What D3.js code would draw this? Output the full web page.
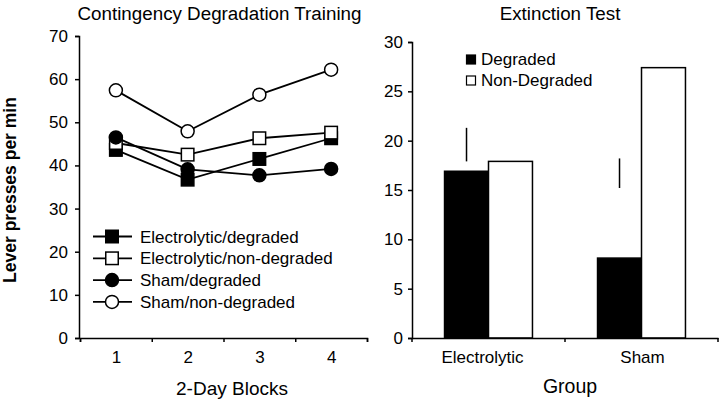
<!DOCTYPE html>
<html><head><meta charset="utf-8">
<script src="https://cdn.jsdelivr.net/npm/d3@7"></script>
<style>
body{margin:0;background:#fff;}
text{font-family:"Liberation Sans",Arial,Helvetica,sans-serif;fill:#000;}
</style></head>
<body><svg id="c" width="720" height="404"></svg>
<script>
// ---- data ----
const blocks = [1, 2, 3, 4];
const lineSeries = ["Electrolytic/degraded", "Electrolytic/non-degraded", "Sham/degraded", "Sham/non-degraded"];
const electrolyticDegraded = [43.6, 36.7, 41.5, 46.3];
const electrolyticNonDegraded = [45.2, 42.5, 46.3, 47.6];
const shamDegraded = [46.5, 39.1, 37.7, 39.2];
const shamNonDegraded = [57.4, 47.9, 56.4, 62.2];
const leftYTicks = [0, 10, 20, 30, 40, 50, 60, 70];

const groups = ["Electrolytic", "Sham"];
const conditions = ["Degraded", "Non-Degraded"];
const degradedValues = [16.9, 8.1];
const nonDegradedValues = [17.9, 27.4];
const errLow = [17.9, 15.2];
const errHigh = [21.3, 18.2];
const rightYTicks = [0, 5, 10, 15, 20, 25, 30];

const svg = d3.select("#c");
const FS = 17;

// ---- left panel ----
const yL = d3.scaleLinear().domain([0, 70]).range([338, 36]);
const xL = d3.scaleLinear().domain([0.5, 4.5]).range([80, 367]);

const gyL = svg.append("g").attr("transform", "translate(79,0)")
  .call(d3.axisLeft(yL).tickValues(leftYTicks).tickSize(4).tickPadding(7).tickFormat(d3.format("d")));
const gxL = svg.append("g").attr("transform", "translate(0,338)")
  .call(d3.axisBottom(xL).tickValues([0.5, 1.5, 2.5, 3.5, 4.5]).tickSize(4).tickFormat(""));
const gxL2 = svg.append("g").attr("transform", "translate(0,338)")
  .call(d3.axisBottom(xL).tickValues(blocks).tickSize(0).tickFormat(d3.format("d")));
gxL2.select(".domain").remove();
gxL2.selectAll("text").attr("y", 25).attr("dy", 0);

const seriesData = [
  {name: lineSeries[0], vals: electrolyticDegraded, shape: "square", fill: "#000"},
  {name: lineSeries[1], vals: electrolyticNonDegraded, shape: "square", fill: "#fff"},
  {name: lineSeries[2], vals: shamDegraded, shape: "circle", fill: "#000"},
  {name: lineSeries[3], vals: shamNonDegraded, shape: "circle", fill: "#fff"}
];
const line = d3.line().x((d, i) => xL(blocks[i])).y(d => yL(d));
const SQ = 12.5, R = 6.5;
function marker(g, shape, fill, cx, cy) {
  if (shape === "square") {
    g.append("rect").attr("x", cx - SQ / 2).attr("y", cy - SQ / 2).attr("width", SQ).attr("height", SQ)
      .attr("fill", fill).attr("stroke", "#000").attr("stroke-width", 1.5);
  } else {
    g.append("circle").attr("cx", cx).attr("cy", cy).attr("r", R)
      .attr("fill", fill).attr("stroke", "#000").attr("stroke-width", 1.5);
  }
}
const gLines = svg.append("g");
seriesData.forEach(s => {
  gLines.append("path").attr("d", line(s.vals)).attr("fill", "none").attr("stroke", "#000").attr("stroke-width", 1.8);
});
seriesData.forEach(s => {
  s.vals.forEach((v, i) => marker(gLines, s.shape, s.fill, xL(blocks[i]), yL(v)));
});

// legend left
const legL = svg.append("g");
seriesData.forEach((s, i) => {
  const y = 236.5 + i * 21.8;
  legL.append("line").attr("x1", 93).attr("x2", 132).attr("y1", y).attr("y2", y).attr("stroke", "#000").attr("stroke-width", 1.8);
  marker(legL, s.shape, s.fill, 112, y);
  legL.append("text").attr("x", 140).attr("y", y + 6).attr("font-size", FS).text(s.name);
});

svg.append("text").attr("x", 219.5).attr("y", 20).attr("text-anchor", "middle").attr("font-size", 18.8).text("Contingency Degradation Training");
svg.append("text").attr("x", 232).attr("y", 395).attr("text-anchor", "middle").attr("font-size", 19).text("2-Day Blocks");
svg.append("text").attr("transform", "translate(15.5,190) rotate(-90)").attr("text-anchor", "middle")
  .attr("font-size", 17.5).attr("font-weight", "bold").text("Lever presses per min");

// ---- right panel ----
const yR = d3.scaleLinear().domain([0, 30]).range([338, 42]);
const xR = d3.scaleBand().domain(groups).range([412, 718]).padding(0);
const xSub = d3.scaleBand().domain(conditions).range([0, xR.bandwidth()]).paddingInner(0).paddingOuter(0.74);

const gyR = svg.append("g").attr("transform", "translate(412,0)")
  .call(d3.axisLeft(yR).tickValues(rightYTicks).tickSize(4).tickPadding(5).tickFormat(d3.format("d")));

const bars = svg.append("g");
groups.forEach((g, i) => {
  const vals = [degradedValues[i], nonDegradedValues[i]];
  conditions.forEach((c, j) => {
    bars.append("rect")
      .attr("x", xR(g) + xSub(c)).attr("width", xSub.bandwidth())
      .attr("y", yR(vals[j])).attr("height", yR(0) - yR(vals[j]))
      .attr("fill", j === 0 ? "#000" : "#fff").attr("stroke", "#000").attr("stroke-width", 1.5);
  });
  const ex = xR(g) + xSub("Degraded") + xSub.bandwidth() / 2;
  bars.append("line").attr("x1", ex).attr("x2", ex).attr("y1", yR(errLow[i])).attr("y2", yR(errHigh[i]))
    .attr("stroke", "#000").attr("stroke-width", 1.5);
});

const gxR = svg.append("g").attr("transform", "translate(0,338)")
  .call(d3.axisBottom(xR).tickSize(0).tickFormat(d => d));
gxR.selectAll("text").attr("y", 25).attr("dy", 0).attr("dx", d => d === "Electrolytic" ? -6 : 1);
// boundary ticks
const bTicks = [412, xR("Sham"), 718];
gxR.selectAll(".btick").data(bTicks).enter().append("line").attr("class", "btick")
  .attr("x1", d => d).attr("x2", d => d).attr("y1", 0).attr("y2", 4).attr("stroke", "#000").attr("stroke-width", 1.5);

// legend right
const legR = svg.append("g");
conditions.forEach((c, i) => {
  const y = 55 + i * 21;
  legR.append("rect").attr("x", 466.5).attr("y", y).attr("width", 9).attr("height", 9)
    .attr("fill", i === 0 ? "#000" : "#fff").attr("stroke", "#000").attr("stroke-width", 1.2);
  legR.append("text").attr("x", 481).attr("y", y + 10).attr("font-size", FS).text(c);
});

svg.append("text").attr("x", 560).attr("y", 20).attr("text-anchor", "middle").attr("font-size", 18.8).text("Extinction Test");
svg.append("text").attr("x", 570).attr("y", 393).attr("text-anchor", "middle").attr("font-size", 19.5).text("Group");

// axis styling
svg.selectAll(".domain").attr("stroke", "#000").attr("stroke-width", 1.5);
svg.selectAll(".tick line").attr("stroke", "#000").attr("stroke-width", 1.5);
svg.selectAll(".tick text").attr("font-size", FS).attr("font-family", "Liberation Sans, Arial, sans-serif").attr("fill", "#000");
</script></body></html>
